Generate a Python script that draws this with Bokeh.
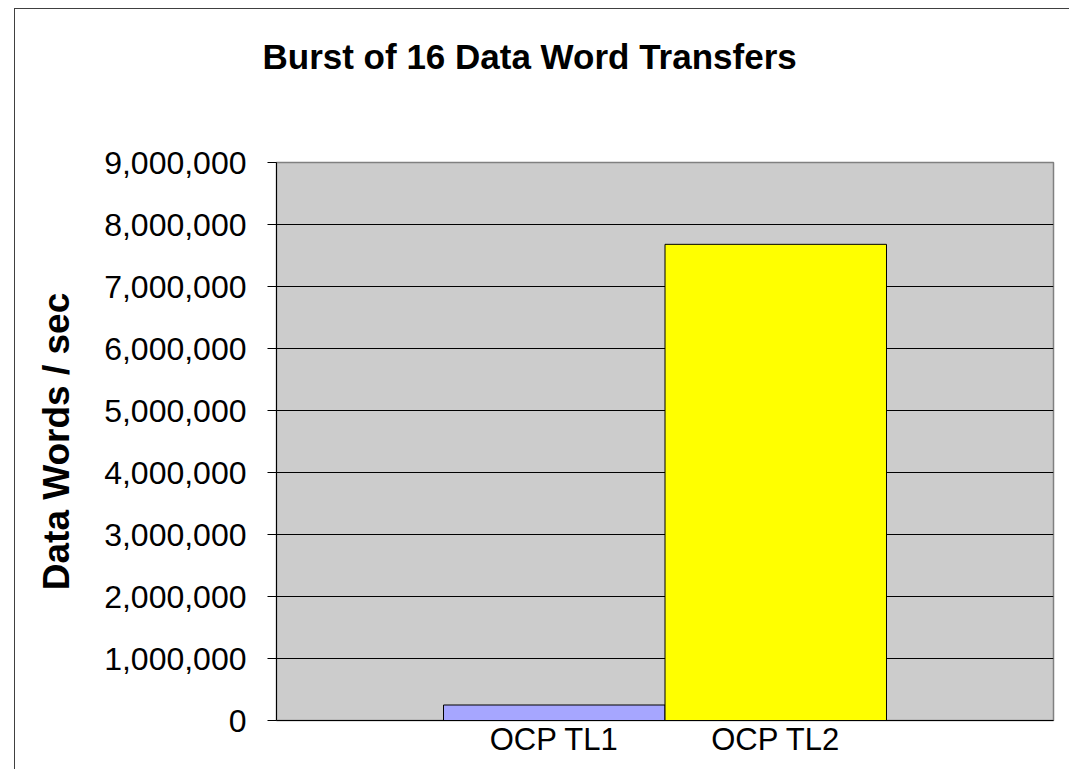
from bokeh.plotting import figure
from bokeh.models import (FactorRange, Range1d, NumeralTickFormatter, Title,
                          FixedTicker, ColumnDataSource)
from bokeh.embed import file_html
from bokeh.resources import INLINE

# ---- data ----
categories = ["OCP TL1", "OCP TL2"]
values = [250000, 7680000]
bar_colors = ["#A6A6FF", "#FFFF00"]
y_ticks = [0, 1000000, 2000000, 3000000, 4000000, 5000000, 6000000, 7000000, 8000000, 9000000]
title_text = "Burst of 16 Data Word Transfers"
y_label = "Data Words / sec"

FONT = "Liberation Sans"

src = ColumnDataSource(dict(cat=categories, val=values, color=bar_colors))

p = figure(width=1055, height=761, output_backend="svg", toolbar_location=None,
           x_range=FactorRange(factors=categories, range_padding=0.754),
           y_range=Range1d(0, 9000000),
           min_border_left=261, min_border_right=17, min_border_top=153, min_border_bottom=50)
p.margin = (8, 0, 0, 14)
p.styles = {"border-top": "1px solid #404040", "border-left": "1px solid #404040"}

p.vbar(x="cat", top="val", width=1.0, source=src, fill_color="color",
       line_color="black", line_width=1)

p.background_fill_color = "#CCCCCC"
p.border_fill_color = "white"
p.outline_line_color = "#808080"
p.outline_line_width = 1.5

p.xgrid.grid_line_color = None
p.ygrid.grid_line_color = "black"
p.ygrid.grid_line_width = 1

# y axis
p.yaxis.ticker = FixedTicker(ticks=y_ticks)
p.yaxis.formatter = NumeralTickFormatter(format="0,0")
p.yaxis.major_label_text_font = FONT
p.yaxis.major_label_text_font_size = "32px"
p.yaxis.major_label_text_color = "black"
p.yaxis.major_tick_out = 9
p.yaxis.major_tick_in = 0
p.yaxis.minor_tick_line_color = None
p.yaxis.major_label_standoff = 21
p.yaxis.axis_line_color = "black"
p.yaxis.axis_label = y_label
p.yaxis.axis_label_text_font = FONT
p.yaxis.axis_label_text_font_size = "37px"
p.yaxis.axis_label_text_font_style = "bold"
p.yaxis.axis_label_text_color = "black"
p.yaxis.axis_label_standoff = 24

# x axis
p.xaxis.major_label_text_font = FONT
p.xaxis.major_label_text_font_size = "31px"
p.xaxis.major_label_text_color = "black"
p.xaxis.major_tick_line_color = None
p.xaxis.minor_tick_line_color = None
p.xaxis.major_label_standoff = -5
p.xaxis.axis_line_color = "black"

# spacer between title and plot area
p.add_layout(Title(text=" ", text_font_size="63px", standoff=10), "above")

# title
p.title.text = title_text
p.title.text_font = FONT
p.title.text_font_size = "35px"
p.title.text_font_style = "bold"
p.title.text_color = "black"
p.title.align = "left"
p.title.offset = -14
p.title.standoff = 10

open("out.html", "w").write(file_html(p, INLINE))
